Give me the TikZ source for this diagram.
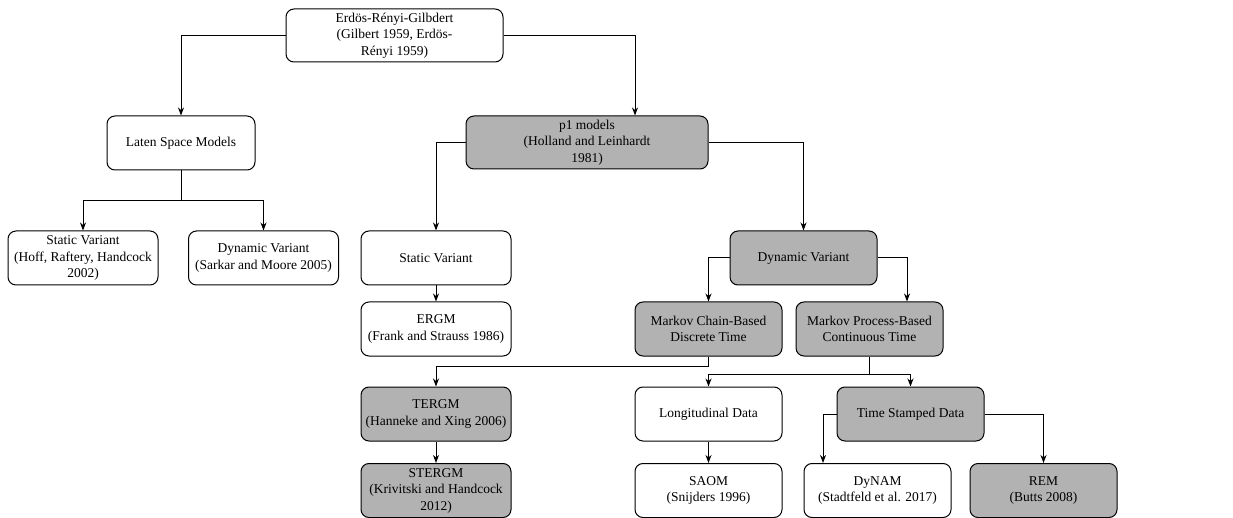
\documentclass[tikz,border=0pt]{standalone}
\usepackage{fontspec}
\setmainfont{Liberation Serif}
\usetikzlibrary{arrows.meta}

\begin{document}
\begin{tikzpicture}[x=1pt, y=1pt,
		box/.style={draw, rounded corners=8pt, line width=1pt, align=center,
		            minimum width=148pt, minimum height=54pt, inner sep=2pt,
		            font=\fontsize{13.5}{16.5}\selectfont},
		shaded/.style={box, fill=black!30},
		link/.style={line width=1pt, -{Stealth[length=8pt, width=6pt, inset=2.5pt]}},
		plain/.style={line width=1pt}]
		\useasboundingbox (0,0) rectangle (1233,-518);
		% top of the tree
		\node[box, minimum width=217pt, minimum height=53pt] (root) at (394.5,-35.5)
		      {Erdös-Rényi-Gilbdert\\(Gilbert 1959, Erdös-\\Rényi 1959)};
		\node[box] (laten) at (181,-143) {Laten Space Models};
		\node[shaded, minimum width=242pt, minimum height=53pt] (p1) at (587,-142.5)
		      {p1 models\\(Holland and Leinhardt\\1981)};
		% latent space branch
		\node[box, minimum width=150pt] (lsv) at (83,-258) {Static Variant\\(Hoff, Raftery, Handcock\\2002)};
		\node[box, minimum width=150pt] (ldv) at (263.5,-258) {Dynamic Variant\\(Sarkar and Moore 2005)};
		% p1 branch
		\node[box, minimum width=150pt] (sv) at (436,-258) {Static Variant};
		\node[shaded, minimum width=147pt] (dv) at (803.5,-258) {Dynamic Variant};
		\node[box, minimum width=150pt] (ergm) at (436,-329) {ERGM\\(Frank and Strauss 1986)};
		\node[shaded, minimum width=147pt] (mc) at (708.5,-329) {Markov Chain-Based\\Discrete Time};
		\node[shaded, minimum width=147pt] (mp) at (869.5,-329) {Markov Process-Based\\Continuous Time};
		\node[shaded, minimum width=150pt] (tergm) at (436,-414) {TERGM\\(Hanneke and Xing 2006)};
		\node[box, minimum width=147pt] (long) at (708.5,-414) {Longitudinal Data};
		\node[shaded, minimum width=147pt] (tsd) at (910.5,-414) {Time Stamped Data};
		\node[shaded, minimum width=150pt] (stergm) at (436,-490.5) {STERGM\\(Krivitski and Handcock\\2012)};
		\node[box, minimum width=147pt] (saom) at (708.5,-490.5) {SAOM\\(Snijders 1996)};
		\node[box, minimum width=147pt] (dynam) at (877.5,-490.5) {DyNAM\\(Stadtfeld et al. 2017)};
		\node[shaded, minimum width=147pt] (rem) at (1043.5,-490.5) {REM\\(Butts 2008)};
		% connectors
		\draw[link] (root.west) -| (laten.north);
		\draw[link] (root.east) -| ([xshift=48pt]p1.north);
		\draw[plain] (laten.south) -- ++(0,-30) coordinate (lj);
		\draw[link] (lj) -| (lsv.north);
		\draw[link] (lj) -| (ldv.north);
		\draw[link] (p1.west) -| (sv.north);
		\draw[link] (p1.east) -| (dv.north);
		\draw[link] (sv.south) -- (ergm.north);
		\draw[link] (dv.west) -| (mc.north);
		\draw[link] (dv.east) -| ([xshift=37.5pt]mp.north);
		\draw[link] (mc.south) -- ++(0,-10) -| (tergm.north);
		\draw[plain] (mp.south) -- ++(0,-18) coordinate (pj);
		\draw[link] (pj) -| (long.north);
		\draw[link] (pj) -| (tsd.north);
		\draw[link] (tergm.south) -- (stergm.north);
		\draw[link] (long.south) -- (saom.north);
		\draw[link] (tsd.west) -| ([xshift=-54.5pt]dynam.north);
		\draw[link] (tsd.east) -| (rem.north);
\end{tikzpicture}
\end{document}
